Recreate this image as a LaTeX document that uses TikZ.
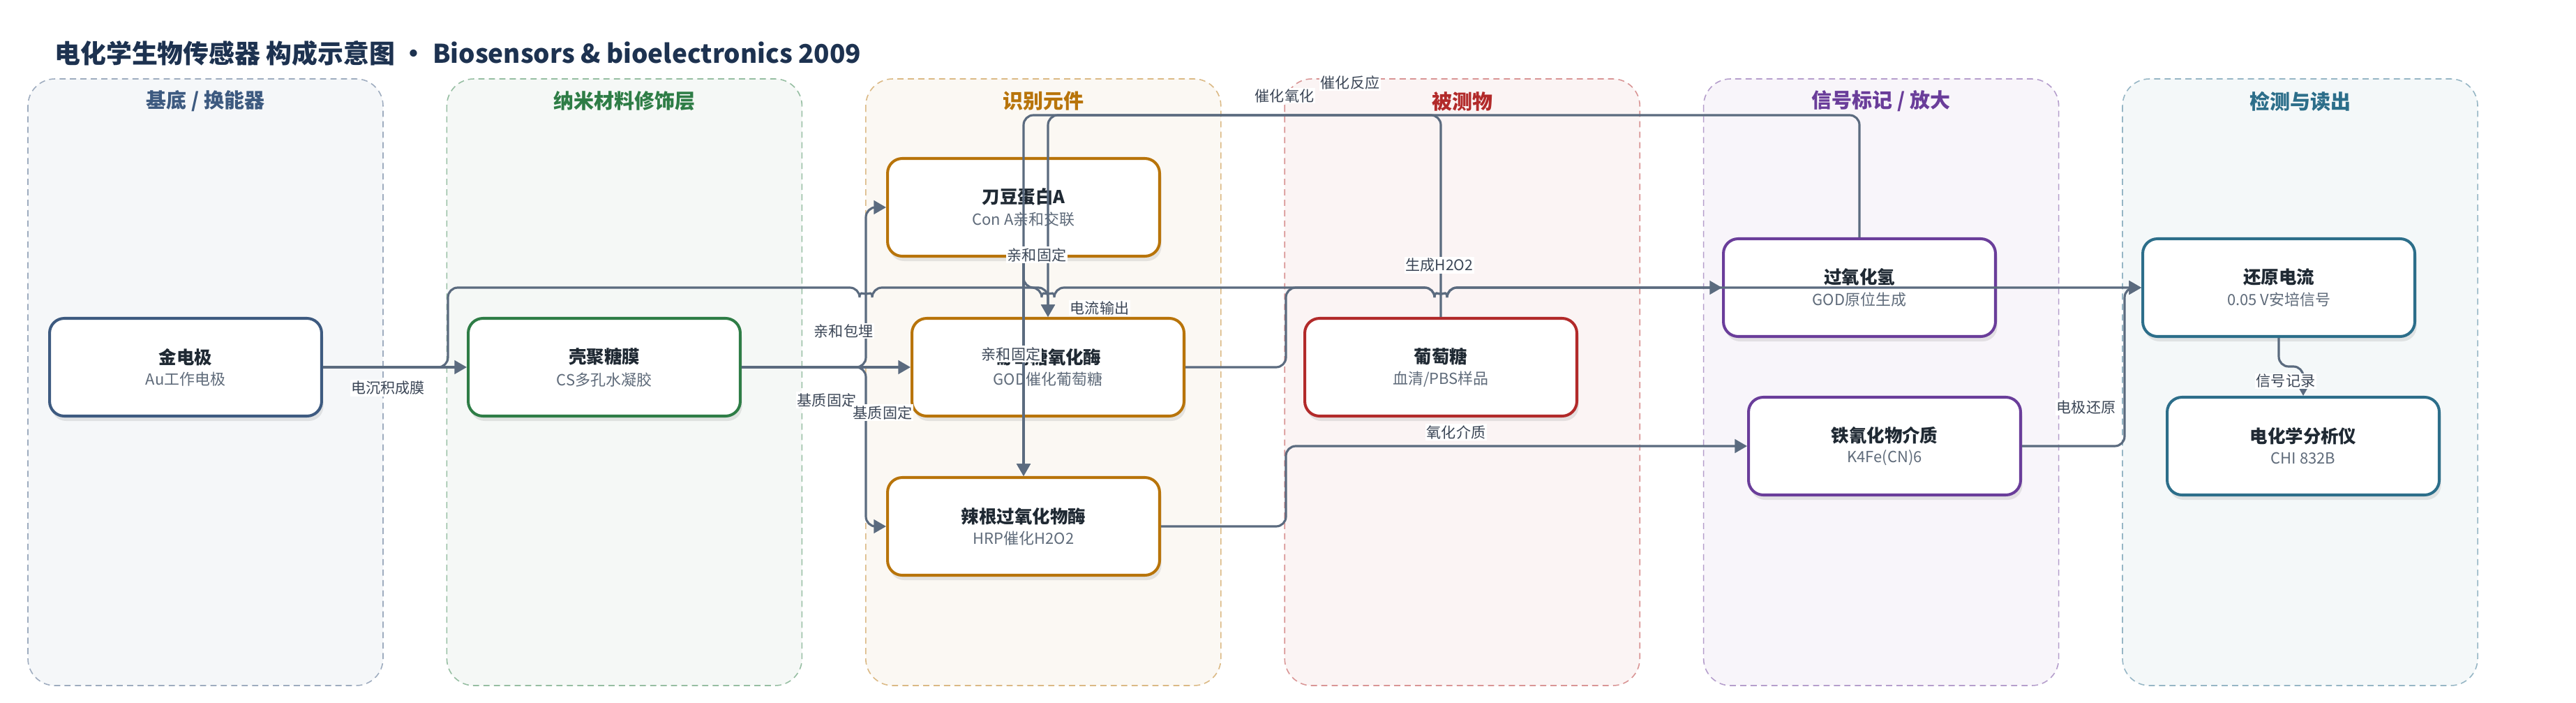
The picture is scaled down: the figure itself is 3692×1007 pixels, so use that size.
\documentclass[tikz,border=0pt]{standalone}
\usepackage{fontspec}
\setmainfont{Noto Sans CJK SC}
\usetikzlibrary{arrows.meta,shadows}
\definecolor{edgeclr}{HTML}{5B6B7F}
\definecolor{headclr}{HTML}{1D3250}
\definecolor{nameclr}{HTML}{1F2933}
\definecolor{subclr}{HTML}{5F6B7A}
\definecolor{lblclr}{HTML}{3B4656}
\definecolor{baseclr}{HTML}{3D5A80}
\definecolor{nanoclr}{HTML}{2E7D46}
\definecolor{recclr}{HTML}{B8740A}
\definecolor{anaclr}{HTML}{B22A2A}
\definecolor{sigclr}{HTML}{6A3D9A}
\definecolor{detclr}{HTML}{2C6E8A}
\newcommand{\boxtext}[2]{{\fontsize{14.5pt}{17pt}\selectfont\bfseries\color{nameclr}#1}\\[5pt]{\fontsize{12.5pt}{15pt}\selectfont\color{subclr}#2}}
\begin{document}
\begin{tikzpicture}[x=0.02cm,y=-0.02cm,
    lane/.style={fill=#1!5, draw=#1!50, dash pattern=on 5pt off 3.5pt, line width=0.9pt, rounded corners=22pt},
    lanetitle/.style={text=#1, font=\fontsize{16.5pt}{19pt}\selectfont\bfseries},
    stage/.style={draw=#1, line width=2.3pt, fill=white, rounded corners=12pt, minimum width=7.8cm, minimum height=2.8cm, align=center, drop shadow={opacity=0.18, shadow xshift=1.5pt, shadow yshift=-4pt}},
    flow/.style={draw=edgeclr, line width=1.8pt, rounded corners=8pt, -{Triangle[length=10pt,width=11pt]}},
    lbl/.style={fill=white, inner sep=1pt, text=lblclr, font=\fontsize{12pt}{14pt}\selectfont}]
  \fill[white] (0,0) rectangle (3692,1007); \useasboundingbox (0,0) rectangle (3692,1007);
  \foreach \i/\c/\t in {0/baseclr/{基底 / 换能器}, 1/nanoclr/{纳米材料修饰层}, 2/recclr/{识别元件},
      3/anaclr/{被测物}, 4/sigclr/{信号标记 / 放大}, 5/detclr/{检测与读出}} {
    \draw[lane=\c] ({40+600.4*\i},113) rectangle ({549+600.4*\i},982);
    \node (lt\i) at ({294.5+600.4*\i},145) [lanetitle=\c] {\t};
  }
  \node (head) at (78,76) [anchor=west, inner sep=0pt, text=headclr,
    font=\fontsize{21pt}{25pt}\selectfont\bfseries] {电化学生物传感器 构成示意图 · Biosensors \& bioelectronics 2009};

  \node (jin) at (266,526) [stage=baseclr] {\boxtext{金电极}{Au工作电极}};
  \node (ke) at (866,526) [stage=nanoclr] {\boxtext{壳聚糖膜}{CS多孔水凝胶}};
  \node (dou) at (1467,297) [stage=recclr] {\boxtext{刀豆蛋白A}{Con A亲和交联}};
  \node (god) at (1502,526) [stage=recclr] {\boxtext{葡萄糖氧化酶}{GOD催化葡萄糖}};
  \node (hrp) at (1467,754) [stage=recclr] {\boxtext{辣根过氧化物酶}{HRP催化H2O2}};
  \node (glu) at (2065,526) [stage=anaclr] {\boxtext{葡萄糖}{血清/PBS样品}};
  \node (hxq) at (2665,412) [stage=sigclr] {\boxtext{过氧化氢}{GOD原位生成}};
  \node (tie) at (2701,639) [stage=sigclr] {\boxtext{铁氰化物介质}{K4Fe(CN)6}};
  \node (hyl) at (3266,412) [stage=detclr] {\boxtext{还原电流}{0.05 V安培信号}};
  \node (fx) at (3301,639) [stage=detclr] {\boxtext{电化学分析仪}{CHI 832B}};

  \draw[flow] (jin) -- (ke);
  \draw[flow] (ke.east) -- (1241,526) -- (1241,297) -- (dou.west);
  \draw[flow] (ke) -- (god);
  \draw[flow] (ke.east) -- (1241,526) -- (1241,754) -- (hrp.west);
  \draw[flow] (dou.south) -- (1467,412) -- (1502,412) -- (god.north);
  \draw[flow] (dou) -- (hrp);
  \draw[flow] (glu.north) -- (2065,165) -- (1502,165) -- (god.north);
  \draw[flow] (god.east) -- (1843,526) -- (1843,412) -- (2056,412) arc (180:0:9) -- (hxq.west);
  \draw[flow] (hxq.north) -- (2665,165) -- (1467,165) -- (hrp.north);
  \draw[flow] (hrp.east) -- (1843,754) -- (1843,639) -- (tie.west);
  \draw[flow] (tie.east) -- (3045,639) -- (3045,412) -- (hyl.west);
  \draw[flow] (hyl.south) -- (3266,525) -- (3301,525) -- (fx.north);
  \draw[flow] (jin.east) -- (642,526) -- (642,412) -- (1232,412) arc (180:0:9)
    -- (1493,412) arc (180:0:9) -- (2056,412) arc (180:0:9) -- (hyl.west);

  \node (l1) at (556,556) [lbl] {电沉积成膜};
  \node (l2) at (1209,474) [lbl] {亲和包埋};
  \node (l3) at (1185,573) [lbl] {基质固定};
  \node (l4) at (1265,591) [lbl] {基质固定};
  \node (l5) at (1486,365) [lbl] {亲和固定};
  \node (l6) at (1449,507) [lbl] {亲和固定};
  \node (l7) at (1841,137) [lbl] {催化氧化};
  \node (l8) at (2063,380) [lbl] {生成H2O2};
  \node (l9) at (1935,118) [lbl] {催化反应};
  \node (l10) at (2087,619) [lbl] {氧化介质};
  \node (l11) at (2990,584) [lbl] {电极还原};
  \node (l12) at (3276,546) [lbl] {信号记录};
  \node (l13) at (1576,441) [lbl] {电流输出};
\end{tikzpicture}
\end{document}
